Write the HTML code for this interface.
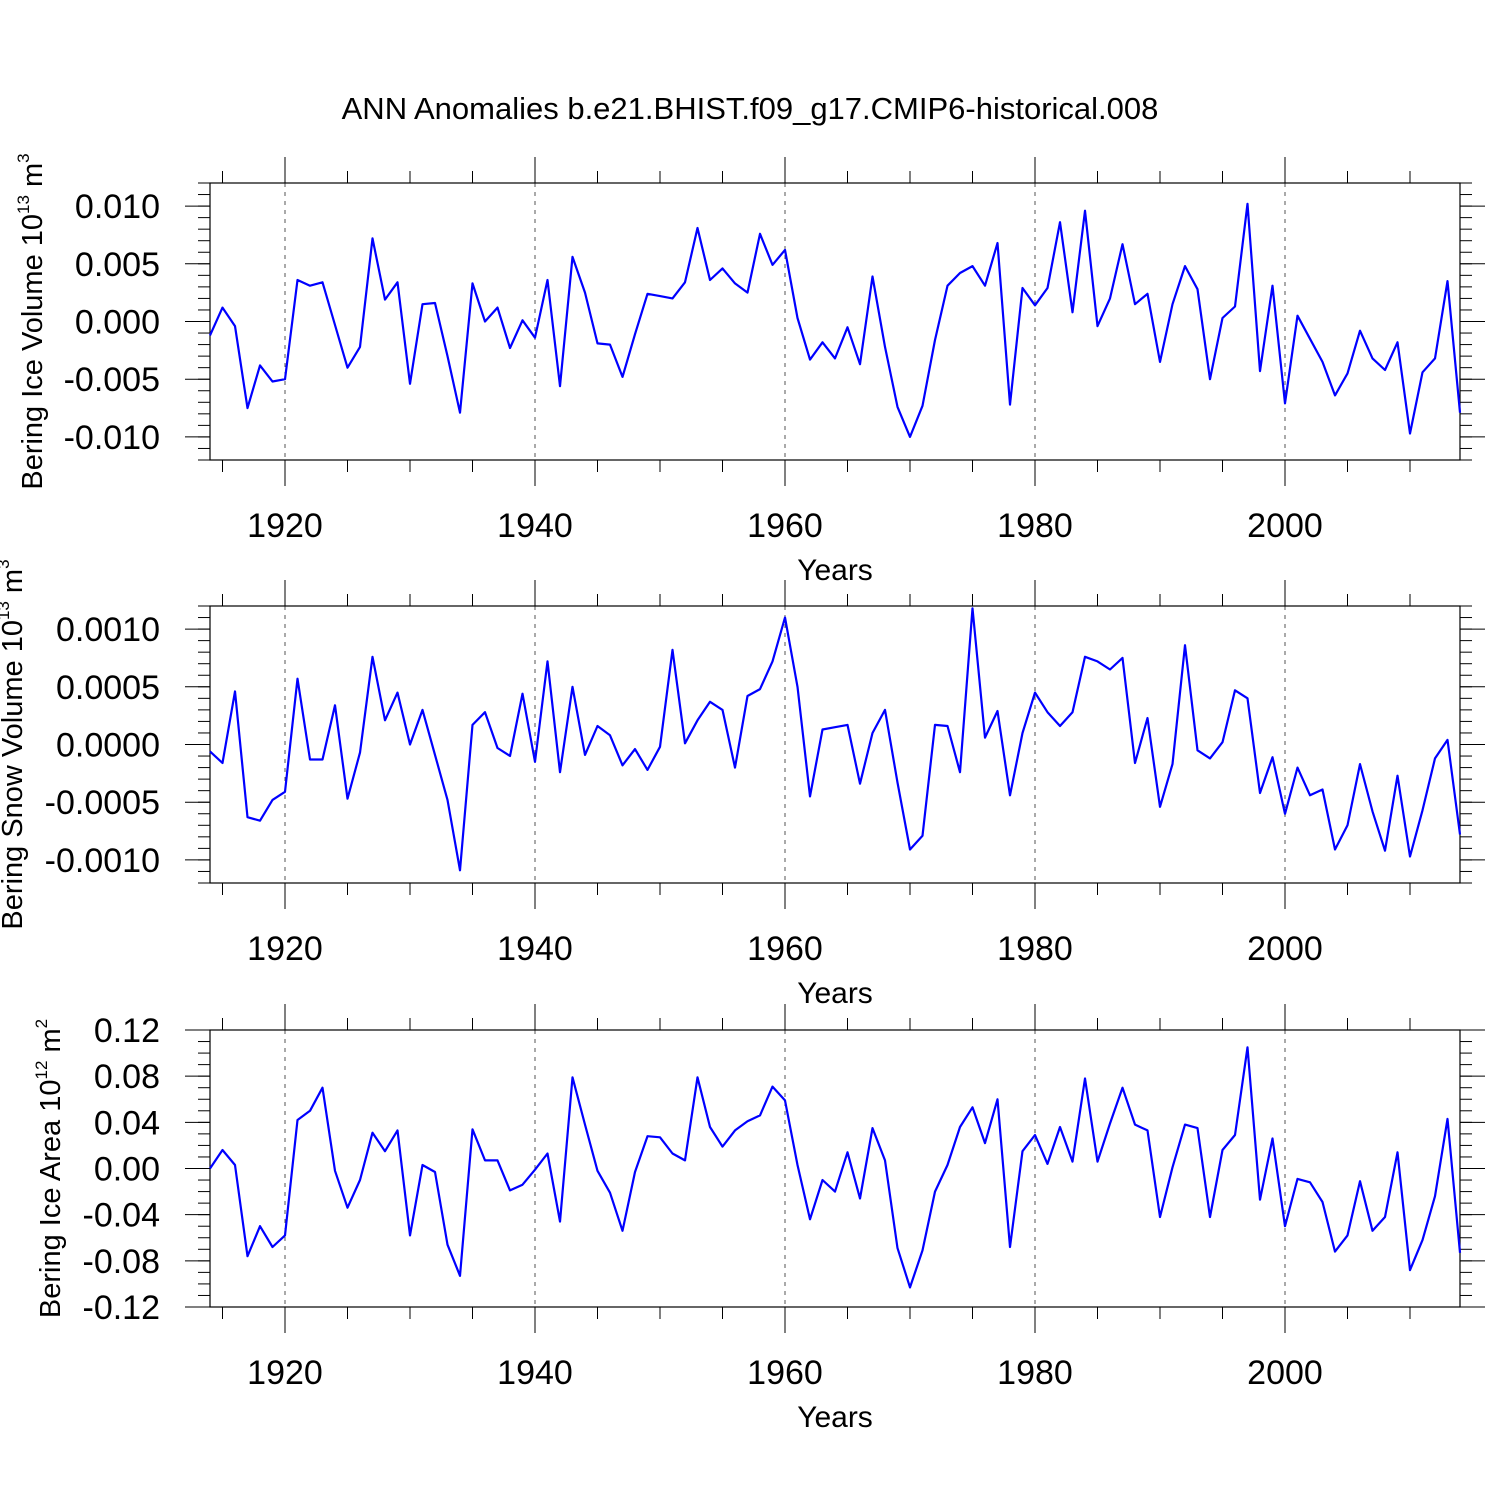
<!DOCTYPE html>
<html><head><meta charset="utf-8">
<style>
html,body{margin:0;padding:0;background:#fff;}
svg{display:block;font-family:"Liberation Sans",Arial,sans-serif;}
</style></head>
<body>
<svg id="chart" width="1500" height="1500" viewBox="0 0 1500 1500" xmlns="http://www.w3.org/2000/svg">
<text x="750" y="119" text-anchor="middle" font-size="31">ANN Anomalies b.e21.BHIST.f09_g17.CMIP6-historical.008</text>
</svg>
<script>
const years = [];
for (let y = 1914; y <= 2014; y++) years.push(y);
const iceVolume = [-0.0012,0.0012,-0.0004,-0.0075,-0.0038,-0.0052,-0.0050,0.0036,0.0031,0.0034,
-0.0003,-0.0040,-0.0022,0.0072,0.0019,0.0034,-0.0054,0.0015,0.0016,-0.0030,
-0.0079,0.0033,0.0000,0.0012,-0.0023,0.0001,-0.0014,0.0036,-0.0056,0.0056,
0.0025,-0.0019,-0.0020,-0.0048,-0.0011,0.0024,0.0022,0.0020,0.0034,0.0081,
0.0036,0.0046,0.0033,0.0025,0.0076,0.0049,0.0062,0.0003,-0.0033,-0.0018,
-0.0032,-0.0005,-0.0037,0.0039,-0.0022,-0.0074,-0.0100,-0.0073,-0.0016,0.0031,
0.0042,0.0048,0.0031,0.0068,-0.0072,0.0029,0.0014,0.0029,0.0086,0.0008,
0.0096,-0.0004,0.0020,0.0067,0.0015,0.0024,-0.0035,0.0015,0.0048,0.0028,
-0.0050,0.0003,0.0013,0.0102,-0.0043,0.0031,-0.0071,0.0005,-0.0015,-0.0035,
-0.0064,-0.0045,-0.0008,-0.0032,-0.0042,-0.0018,-0.0097,-0.0044,-0.0032,0.0035,-0.0079];
const snowVolume = [-0.00006,-0.00016,0.00046,-0.00063,-0.00066,-0.00048,-0.00041,0.00057,-0.00013,-0.00013,
0.00034,-0.00047,-0.00007,0.00076,0.00021,0.00045,0.0,0.0003,-0.00009,-0.00048,
-0.00109,0.00017,0.00028,-0.00003,-0.0001,0.00044,-0.00015,0.00072,-0.00024,0.0005,
-0.00009,0.00016,0.00008,-0.00018,-0.00004,-0.00022,-0.00002,0.00082,0.00001,0.00021,
0.00037,0.0003,-0.0002,0.00042,0.00048,0.00072,0.0011,0.0005,-0.00045,0.00013,
0.00015,0.00017,-0.00034,0.0001,0.0003,-0.00033,-0.00091,-0.00079,0.00017,0.00016,
-0.00024,0.00118,0.00006,0.00029,-0.00044,0.0001,0.00045,0.00028,0.00016,0.00028,
0.00076,0.00072,0.00065,0.00075,-0.00016,0.00023,-0.00054,-0.00017,0.00086,-0.00005,
-0.00012,0.00002,0.00047,0.0004,-0.00042,-0.00011,-0.0006,-0.0002,-0.00044,-0.00039,
-0.00091,-0.0007,-0.00017,-0.00058,-0.00092,-0.00027,-0.00097,-0.00057,-0.00012,0.00004,-0.00078];
const iceArea = [0.0,0.016,0.003,-0.076,-0.05,-0.068,-0.058,0.042,0.05,0.07,
-0.002,-0.034,-0.01,0.031,0.015,0.033,-0.058,0.003,-0.003,-0.066,
-0.093,0.034,0.007,0.007,-0.019,-0.014,-0.001,0.013,-0.046,0.079,
0.038,-0.002,-0.021,-0.054,-0.003,0.028,0.027,0.013,0.007,0.079,
0.036,0.019,0.033,0.041,0.046,0.071,0.059,0.003,-0.044,-0.01,
-0.02,0.014,-0.026,0.035,0.007,-0.069,-0.103,-0.071,-0.02,0.003,
0.036,0.053,0.022,0.06,-0.068,0.015,0.029,0.004,0.036,0.006,
0.078,0.006,0.039,0.07,0.038,0.033,-0.042,0.001,0.038,0.035,
-0.042,0.016,0.029,0.105,-0.027,0.026,-0.05,-0.009,-0.012,-0.029,
-0.072,-0.058,-0.011,-0.054,-0.042,0.014,-0.088,-0.062,-0.024,0.043,-0.073];
const xTickYears = [1920,1940,1960,1980,2000];
const ticks1 = [0.010,0.005,0.0,-0.005,-0.010];
const tickLabels1 = ["0.010","0.005","0.000","-0.005","-0.010"];
const ticks2 = [0.0010,0.0005,0.0,-0.0005,-0.0010];
const tickLabels2 = ["0.0010","0.0005","0.0000","-0.0005","-0.0010"];
const ticks3 = [0.12,0.08,0.04,0.0,-0.04,-0.08,-0.12];
const tickLabels3 = ["0.12","0.08","0.04","0.00","-0.04","-0.08","-0.12"];

const NS = "http://www.w3.org/2000/svg";
const svg = document.getElementById('chart');
const X0 = 210, X1 = 1460, YR0 = 1914, YR1 = 2014;
function xScale(yr){ return X0 + (yr - YR0) / (YR1 - YR0) * (X1 - X0); }
function mk(tag, attrs, parent){
  const e = document.createElementNS(NS, tag);
  for (const k in attrs) e.setAttribute(k, attrs[k]);
  (parent || svg).appendChild(e);
  return e;
}

const panels = [
  {key:'ice-volume', top:183, bot:460, min:-0.012, max:0.012, data:iceVolume, ticks:ticks1, labels:tickLabels1, minorStep:0.001, titleX:32, title:'Bering Ice Volume 10', sup:'13', unit:' m', usup:'3'},
  {key:'snow-volume', top:606, bot:883, min:-0.0012, max:0.0012, data:snowVolume, ticks:ticks2, labels:tickLabels2, minorStep:0.0001, titleX:12, title:'Bering Snow Volume 10', sup:'13', unit:' m', usup:'3'},
  {key:'ice-area', top:1030, bot:1307, min:-0.12, max:0.12, data:iceArea, ticks:ticks3, labels:tickLabels3, minorStep:0.01, titleX:50, title:'Bering Ice Area 10', sup:'12', unit:' m', usup:'2'}
];

panels.forEach(p => {
  const g = mk('g', {});
  
  
  const yScale = v => p.bot - (v - p.min) / (p.max - p.min) * (p.bot - p.top);
  xTickYears.forEach(yr => {
    const l = mk('line', {x1:xScale(yr), x2:xScale(yr), y1:p.top, y2:p.bot, stroke:'#555', 'stroke-width':1, 'stroke-dasharray':'4,5'}, g);
    
    
  });
  const fr = mk('rect', {x:X0, y:p.top, width:X1-X0, height:p.bot-p.top, fill:'none', stroke:'#000', 'stroke-width':1.2}, g);
  
  
  for (let yr = 1915; yr <= 2010; yr += 5) {
    const major = yr % 20 === 0;
    const len = major ? 26 : 12;
    const x = xScale(yr);
    mk('line', {x1:x, x2:x, y1:p.top, y2:p.top-len, stroke:'#000', 'stroke-width':1}, g);
    mk('line', {x1:x, x2:x, y1:p.bot, y2:p.bot+len, stroke:'#000', 'stroke-width':1}, g);
  }
  xTickYears.forEach(yr => {
    const t = mk('text', {x:xScale(yr), y:p.bot+77, 'text-anchor':'middle', 'font-size':34}, g);
    t.textContent = yr;
    
    
  });
  const xt = mk('text', {x:835, y:p.bot+120, 'text-anchor':'middle', 'font-size':30}, g);
  xt.textContent = 'Years';
  
  
  const nMin = Math.round((p.max - p.min) / p.minorStep);
  for (let i = 0; i <= nMin; i++) {
    const v = p.min + i * p.minorStep;
    const y = yScale(v);
    mk('line', {x1:X0, x2:X0-12, y1:y, y2:y, stroke:'#000', 'stroke-width':1}, g);
    mk('line', {x1:X1, x2:X1+12, y1:y, y2:y, stroke:'#000', 'stroke-width':1}, g);
  }
  p.ticks.forEach((v, i) => {
    const y = yScale(v);
    mk('line', {x1:X0, x2:X0-25, y1:y, y2:y, stroke:'#000', 'stroke-width':1}, g);
    mk('line', {x1:X1, x2:X1+25, y1:y, y2:y, stroke:'#000', 'stroke-width':1}, g);
    const t = mk('text', {x:160, y:y+12, 'text-anchor':'end', 'font-size':34}, g);
    t.textContent = p.labels[i];
    
    
  });
  const cy = (p.top + p.bot) / 2;
  const yt = mk('text', {x:0, y:0, 'text-anchor':'middle', 'font-size':29, transform:'translate(' + (p.titleX + 10) + ',' + cy + ') rotate(-90)'}, g);
  
  
  yt.appendChild(document.createTextNode(p.title));
  const s1 = mk('tspan', {'font-size':17, dy:-13}, yt); s1.textContent = p.sup;
  const s2 = mk('tspan', {dy:13}, yt); s2.textContent = p.unit;
  const s3 = mk('tspan', {'font-size':17, dy:-13}, yt); s3.textContent = p.usup;
  const pts = p.data.map((v, i) => xScale(years[i]).toFixed(1) + ',' + yScale(v).toFixed(1)).join(' ');
  const line = mk('polyline', {points:pts, fill:'none', stroke:'#0000ff', 'stroke-width':2.2, 'stroke-linejoin':'round'}, g);
  
  
});
</script>
</body></html>
